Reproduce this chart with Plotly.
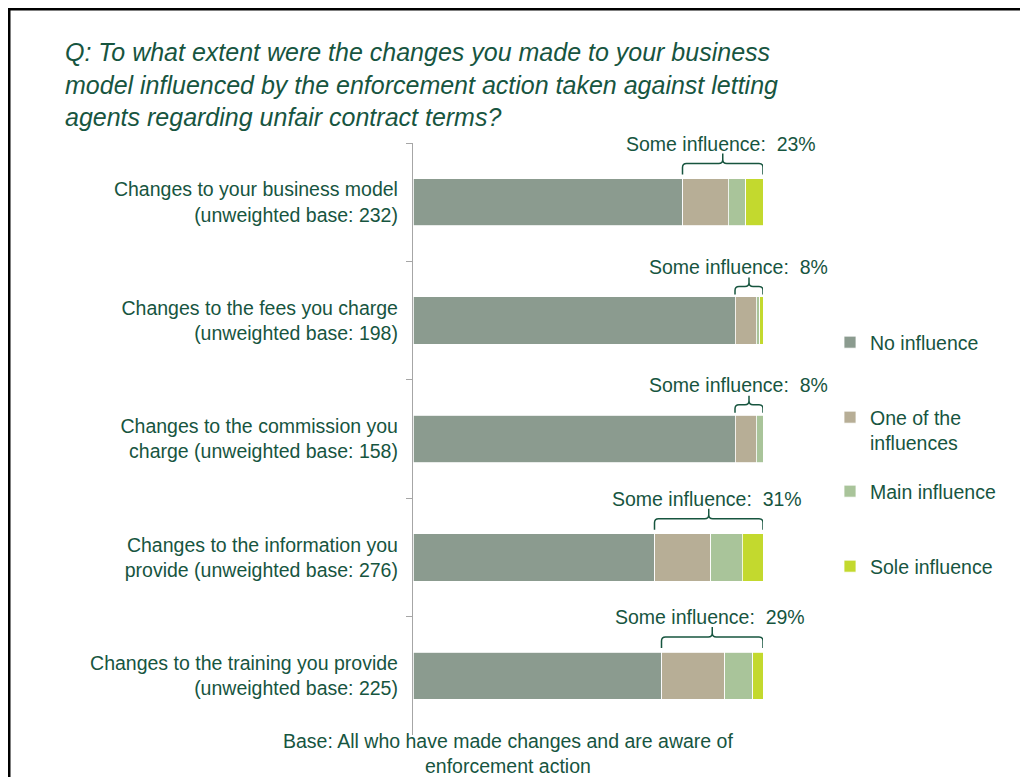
import plotly.graph_objects as go

# ---------------- data ----------------
categories = [
    "Changes to your business model<br>(unweighted base: 232)",
    "Changes to the fees you charge<br>(unweighted base: 198)",
    "Changes to the commission you<br>charge (unweighted base: 158)",
    "Changes to the information you<br>provide (unweighted base: 276)",
    "Changes to the training you provide<br>(unweighted base: 225)",
]
no_influence = [77, 92, 92, 69, 71]
one_of_the_influences = [13, 6, 6, 16, 18]
main_influence = [5, 1, 2, 9, 8]
sole_influence = [5, 1, 0, 6, 3]

series_names = ["No influence", "One of the<br>influences", "Main influence", "Sole influence"]
series_values = [no_influence, one_of_the_influences, main_influence, sole_influence]
series_colors = ["#8B9B8F", "#B7AE96", "#A9C49A", "#C3D92E"]

title_text = ("Q: To what extent were the changes you made to your business<br>"
              "model influenced by the enforcement action taken against letting<br>"
              "agents regarding unfair contract terms?")
note_text = "Base: All who have made changes and are aware of<br>enforcement action"

# ---------------- layout geometry ----------------
OFF = 8                      # page body margin
W, H = 1028 - OFF, 777 - OFF
L, R, T, B = 413 - OFF, 265, 143 - OFF, 50 - OFF
PW, PH = W - L - R, H - T - B
TXT = "#17553F"
FONT = "Liberation Sans, Arial, sans-serif"


def px_x(px):
    return (px - OFF - L) / PW


def px_y(py):
    return (H - B - (py - OFF)) / PH


fig = go.Figure()
for i, (name, vals, col) in enumerate(zip(series_names, series_values, series_colors)):
    fig.add_trace(go.Bar(
        y=categories, x=vals, name=name, orientation="h",
        marker=dict(color=col, line=dict(color="white", width=0.8)),
        legend="legend" if i == 0 else f"legend{i + 1}",
        hoverinfo="x+name",
    ))

# ---------------- braces + "Some influence" labels ----------------
unit_y = PH / len(categories)      # px per category
unit_x = PW / 100.0                # px per percent
shapes = []
annotations = []
for i, cat in enumerate(categories):
    xs = no_influence[i]
    some = one_of_the_influences[i] + main_influence[i] + sole_influence[i]
    xe = xs + some
    xc = (xs + xe) / 2
    top = i - 0.2
    wide = (xe - xs) * unit_x > 60
    d_end, d_mid, d_tip, d_txt = (4, 15, 25, 35) if wide else (2.5, 10.5, 19.5, 30)
    r = 4

    def Y(d):
        return top - d / unit_y

    rx = r / unit_x
    path = (f"M {xs},{Y(d_end)} L {xs},{Y(d_mid - r)} Q {xs},{Y(d_mid)} {xs + rx},{Y(d_mid)} "
            f"L {xc - rx},{Y(d_mid)} Q {xc},{Y(d_mid)} {xc},{Y(d_mid + r)} L {xc},{Y(d_tip)} "
            f"M {xc},{Y(d_mid + r)} Q {xc},{Y(d_mid)} {xc + rx},{Y(d_mid)} "
            f"L {xe - rx},{Y(d_mid)} Q {xe},{Y(d_mid)} {xe},{Y(d_mid - r)} L {xe},{Y(d_end)}")
    shapes.append(dict(type="path", path=path, xref="x", yref="y",
                       line=dict(color="#17553F", width=1.5)))
    lx = min(xc - 0.6, 93)
    annotations.append(dict(
        x=lx, y=Y(d_txt), xref="x", yref="y", xanchor="center", yanchor="middle",
        text=f"Some influence:\u00a0 {some}%", showarrow=False,
        font=dict(size=19.5, color=TXT, family=FONT)))

# title
annotations.append(dict(
    x=px_x(63), y=px_y(85), xref="paper", yref="paper", xanchor="left", yanchor="middle",
    align="left", text=title_text, showarrow=False,
    font=dict(size=25, color=TXT, family=FONT, style="italic")))
# bottom note
annotations.append(dict(
    x=px_x(508), y=px_y(753), xref="paper", yref="paper", xanchor="center", yanchor="middle",
    align="center", text=note_text, showarrow=False,
    font=dict(size=19.5, color=TXT, family=FONT)))

# frame around the slide
shapes.append(dict(type="rect", xref="paper", yref="paper",
                   x0=px_x(9), x1=px_x(1060), y0=px_y(800), y1=px_y(9),
                   line=dict(color="black", width=3), layer="above"))

legend_tops = [323, 398, 472, 547]
legend_kw = {}
for i, ytop in enumerate(legend_tops):
    key = "legend" if i == 0 else f"legend{i + 1}"
    legend_kw[key] = dict(
        x=px_x(830), y=px_y(ytop), xanchor="left", yanchor="top",
        font=dict(size=19.5, color=TXT, family=FONT), valign="top",
        bgcolor="rgba(0,0,0,0)", itemclick=False, itemdoubleclick=False)

fig.update_layout(
    width=W, height=H,
    margin=dict(l=L, r=R, t=T, b=B),
    paper_bgcolor="white", plot_bgcolor="white",
    barmode="stack", bargap=0.6,
    showlegend=True,
    font=dict(family=FONT, color=TXT),
    shapes=shapes, annotations=annotations,
    xaxis=dict(range=[0, 100], visible=False, fixedrange=True),
    yaxis=dict(type="category", categoryorder="array", categoryarray=categories,
               range=[len(categories) - 0.5, -0.5], tickson="boundaries",
               ticks="outside", ticklen=6, tickcolor="#A6A6A6", tickwidth=1.3,
               showline=True, linecolor="#A6A6A6", linewidth=1.3,
               showgrid=False, ticklabelstandoff=10,
               tickfont=dict(size=19.5, color=TXT, family=FONT), fixedrange=True),
    **legend_kw,
)

fig.write_html("out.html")
